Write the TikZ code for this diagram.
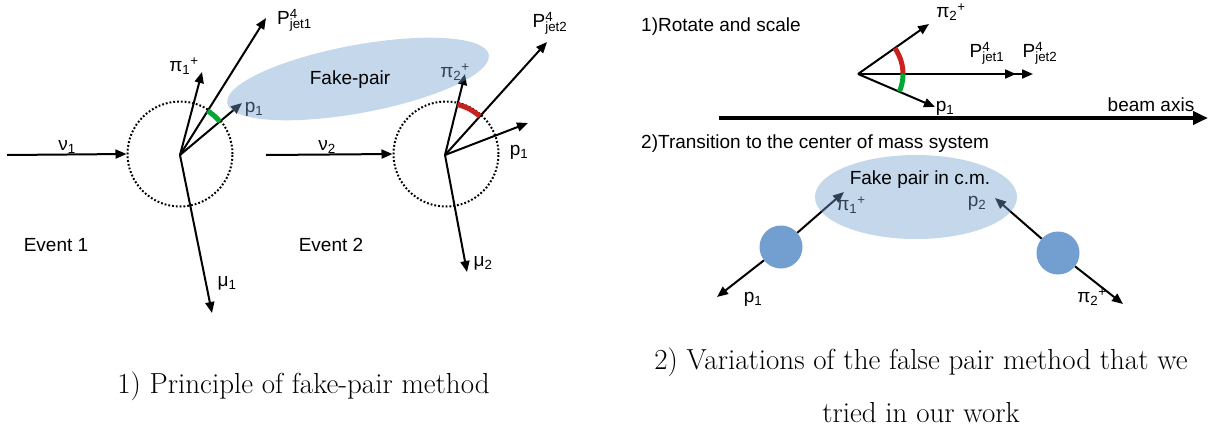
\documentclass[tikz,border=0pt]{standalone}
\usepackage{fontspec}
\newfontfamily\lsans{Liberation Sans}
\usetikzlibrary{arrows.meta,shapes.geometric,calc}
\definecolor{fpblue}{RGB}{114,159,207}
\definecolor{arcred}{RGB}{201,33,30}
\definecolor{arcgreen}{RGB}{0,169,51}
\newcommand\Pj[1]{P\rlap{\textsuperscript{4}}\textsubscript{jet#1}}
\newcommand\lsub[1]{\textsubscript{#1}}
\newcommand\lsup[1]{\textsuperscript{#1}}
\begin{document}
\begin{tikzpicture}[x=1pt,y=-1pt,
  lbl/.style={font=\lsans\fontsize{19}{22}\selectfont, inner sep=0pt},
  captxt/.style={font=\fontsize{29}{34}\selectfont, inner sep=0pt, anchor=base},
  vec/.style={line width=2pt, -{Triangle[length=11pt,width=9pt]}},
  beam/.style={line width=4pt, -{Triangle[length=15pt,width=13pt]}},
  ring/.style={circle, draw, line width=2pt, dash pattern=on 1.8pt off 2pt, minimum size=105pt, inner sep=0pt},
  fp/.style={ellipse, fill=fpblue, fill opacity=0.42, inner sep=0pt},
  ball/.style={circle, fill=fpblue, minimum size=43pt, inner sep=0pt},
  angred/.style={draw=arcred, line width=5pt},
  anggreen/.style={draw=arcgreen, line width=5pt}
]
\useasboundingbox (0,0) rectangle (1210,426);

% ---------- Event 1 ----------
\node[ring] (c1) at (180,154) {};
\coordinate (v1) at (180,155);
\coordinate (n1s) at (7,155);
\coordinate (pi1) at (202,72);
\coordinate (j1) at (266,18);
\coordinate (p1a) at (242,103);
\coordinate (mu1) at (212,313);
\draw[vec] (n1s) -- (c1.west);
\draw[vec] (v1) -- (pi1);
\draw[vec] (v1) -- (j1);
\draw[vec] (v1) -- (p1a);
\draw[vec] (v1) -- (mu1);
\draw[anggreen] ($(v1)+(-40:52)$) arc[start angle=-40, end angle=-58, radius=52];
\node[lbl] (ln1) at (67,147) {ν\lsub{1}};
\node[lbl] (lpi1) at (184,66) {π\lsub{1}\lsup{+}};
\node[lbl, anchor=west] (lj1) at (277,20) {\Pj{1}};
\node[lbl] (lp1a) at (254,109) {p\lsub{1}};
\node[lbl] (lmu1) at (227,283) {μ\lsub{1}};
\node[lbl] (ev1) at (56,245) {Event 1};

% ---------- Event 2 ----------
\node[ring] (c2) at (446,154) {};
\coordinate (v2) at (445,155);
\coordinate (n2s) at (266,155);
\coordinate (pi2) at (465,74);
\coordinate (j2) at (547,42);
\coordinate (p1b) at (528,123);
\coordinate (mu2) at (467,272);
\draw[vec] (n2s) -- (c2.west);
\draw[vec] (v2) -- (pi2);
\draw[vec] (v2) -- (j2);
\draw[vec] (v2) -- (p1b);
\draw[vec] (v2) -- (mu2);
\draw[angred] ($(v2)+(-48:52)$) arc[start angle=-48, end angle=-76, radius=52];
\node[lbl] (ln2) at (327,147) {ν\lsub{2}};
\node[lbl] (lpi2) at (455,72) {π\lsub{2}\lsup{+}};
\node[lbl] (lj2) at (550,23) {\Pj{2}};
\node[lbl] (lp1b) at (519,152) {p\lsub{1}};
\node[lbl] (lmu2) at (483,263) {μ\lsub{2}};
\node[lbl] (ev2) at (331,245) {Event 2};

% fake pair ellipse
\node[fp, minimum width=266pt, minimum height=68pt, rotate=10.5] (fp1) at (358,79) {};
\node[lbl] (fpt) at (350,80) {Fake-pair};

% ---------- Right: rotate and scale ----------
\node[lbl, anchor=west] (t1) at (641,27) {1)Rotate and scale};
\coordinate (v3) at (858,74);
\coordinate (pi3) at (929,24);
\coordinate (j31) at (1016,74);
\coordinate (j32) at (1033,74);
\coordinate (p13) at (935,107);
\draw[vec] (v3) -- (j32);
\draw[vec] (v3) -- (j31);
\draw[vec] (v3) -- (pi3);
\draw[vec] (v3) -- (p13);
\draw[angred] ($(v3)+(0:45)$) arc[start angle=0, end angle=-35, radius=45];
\draw[anggreen] ($(v3)+(0:45)$) arc[start angle=0, end angle=23, radius=45];
\node[lbl] (lpi3) at (951,12) {π\lsub{2}\lsup{+}};
\node[lbl] (lj31) at (987,53) {\Pj{1}};
\node[lbl] (lj32) at (1040,53) {\Pj{2}};
\node[lbl] (lp13) at (945,108) {p\lsub{1}};
\coordinate (b0) at (719,118);
\coordinate (b1) at (1208,118);
\draw[beam] (b0) -- (b1);
\node[lbl] (lb) at (1151,105) {beam axis};

% ---------- Right: centre of mass ----------
\node[lbl, anchor=west] (t2) at (641,144) {2)Transition to the center of mass system};
\node[ball] (bl) at (781,247) {};
\node[ball] (br) at (1058,253) {};
\coordinate (pi1c) at (844,192);
\coordinate (p1c) at (717,297);
\coordinate (p2c) at (995,198);
\coordinate (pi2c) at (1123,304);
\draw[vec] (bl) -- (pi1c);
\draw[vec] (bl) -- (p1c);
\draw[vec] (br) -- (p2c);
\draw[vec] (br) -- (pi2c);
\node[lbl] (lpi1c) at (851,205) {π\lsub{1}\lsup{+}};
\node[lbl] (lp1c) at (753,299) {p\lsub{1}};
\node[lbl] (lp2c) at (977,203) {p\lsub{2}};
\node[lbl] (lpi2c) at (1092,297) {π\lsub{2}\lsup{+}};
\node[fp, minimum width=202pt, minimum height=84pt] (fp2) at (916,197) {};
\node[lbl] (fpt2) at (920,180) {Fake pair in c.m.};

% ---------- captions ----------
\node[captxt] (cap1) at (303.5,393) {1) Principle of fake-pair method};
\node[captxt] (cap2a) at (921,369) {2) Variations of the false pair method that we};
\node[captxt] (cap2b) at (921,422) {tried in our work};
\end{tikzpicture}
\end{document}
